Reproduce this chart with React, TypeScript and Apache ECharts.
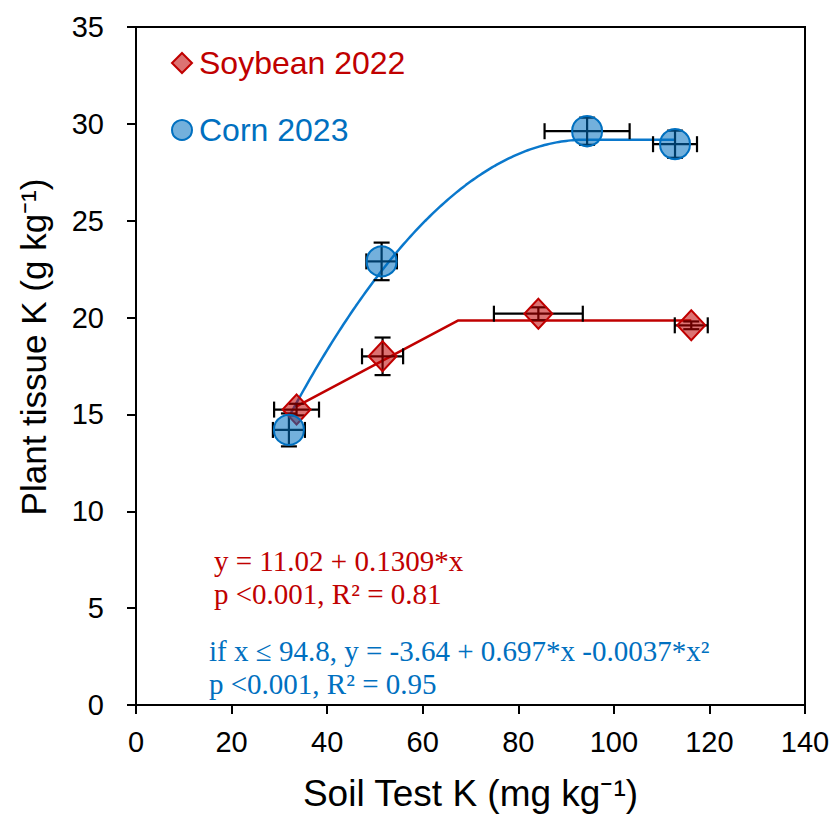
import React, { useEffect, useRef } from "react";
import * as echarts from "echarts";

// ---- Data ----
const soyX = [33.6, 51.6, 84.2, 116.2];
const soyY = [15.25, 18.0, 20.2, 19.6];
const soyXErr = [4.7, 4.3, 9.3, 3.45];
const soyYErr = [0.3, 0.97, 0.33, 0.2];

const cornX = [32.0, 51.4, 94.4, 112.8];
const cornY = [14.2, 22.9, 29.62, 28.95];
const cornXErr = [3.35, 3.2, 8.9, 4.6];
const cornYErr = [0.85, 0.97, 0.7, 0.7];

// Fitted models (printed on the chart)
const soyIntercept = 11.02;
const soySlope = 0.1309;
const soyPlateau = 19.85;
const cornA = -3.64;
const cornB = 0.697;
const cornC = -0.0037;

const xTicks = { min: 0, max: 140, interval: 20 };
const yTicks = { min: 0, max: 35, interval: 5 };

const RED = "#C00000";
const BLUE = "#0070C0";
const SANS = "Arial, 'Liberation Sans', sans-serif";
const SERIF = "'Times New Roman', 'Liberation Serif', serif";

function soyFit(): number[][] {
  const x0 = soyX[0];
  const xJoin = (soyPlateau - soyIntercept) / soySlope;
  const x1 = soyX[soyX.length - 1];
  return [
    [x0, soyIntercept + soySlope * x0],
    [xJoin, soyPlateau],
    [x1, soyPlateau],
  ];
}

function cornFit(): number[][] {
  const x0 = cornX[0];
  const xv = -cornB / (2 * cornC);
  const f = (x: number) => cornA + cornB * x + cornC * x * x;
  const pts: number[][] = [];
  for (let x = x0; x < xv; x += 0.5) pts.push([x, f(x)]);
  pts.push([xv, f(xv)]);
  pts.push([cornX[cornX.length - 1], f(xv)]);
  return pts;
}

function errSeries(xs: number[], ys: number[], xe: number[], ye: number[]) {
  return {
    type: "custom",
    z: 3,
    silent: true,
    encode: { x: 0, y: 1 },
    data: xs.map((x, i) => [x, ys[i], xe[i], ye[i]]),
    renderItem: (_params: any, api: any) => {
      const x = api.value(0);
      const y = api.value(1);
      const dx = api.value(2);
      const dy = api.value(3);
      const l = api.coord([x - dx, y]);
      const r = api.coord([x + dx, y]);
      const t = api.coord([x, y + dy]);
      const b = api.coord([x, y - dy]);
      const cap = 8;
      const style = { stroke: "#000", lineWidth: 2.2 };
      return {
        type: "group",
        children: [
          { type: "line", shape: { x1: l[0], y1: l[1], x2: r[0], y2: r[1] }, style },
          { type: "line", shape: { x1: l[0], y1: l[1] - cap, x2: l[0], y2: l[1] + cap }, style },
          { type: "line", shape: { x1: r[0], y1: r[1] - cap, x2: r[0], y2: r[1] + cap }, style },
          { type: "line", shape: { x1: t[0], y1: t[1], x2: b[0], y2: b[1] }, style },
          { type: "line", shape: { x1: t[0] - cap, y1: t[1], x2: t[0] + cap, y2: t[1] }, style },
          { type: "line", shape: { x1: b[0] - cap, y1: b[1], x2: b[0] + cap, y2: b[1] }, style },
        ],
      };
    },
  };
}

export default function App() {
  const ref = useRef<HTMLDivElement>(null);

  useEffect(() => {
    document.body.style.margin = "0";
    if (!ref.current) return;
    const chart = echarts.init(ref.current, undefined, { renderer: "svg" });

    const axisCommon = {
      axisLine: { show: true, lineStyle: { color: "#000", width: 2 } },
      axisTick: { show: true, inside: false, length: 9, lineStyle: { color: "#000", width: 2 } },
      splitLine: { show: false },
    };

    const annot = (text: string, x: number, y: number, fill: string) => ({
      type: "text",
      x,
      y,
      style: { text, fill, fontSize: 29, fontFamily: SERIF, textVerticalAlign: "middle" },
    });

    chart.setOption({
      animation: false,
      backgroundColor: "#fff",
      grid: {
        left: 136,
        right: 29,
        top: 27,
        bottom: 107,
        show: true,
        borderColor: "#000",
        borderWidth: 2,
        backgroundColor: "transparent",
      },
      legend: {
        orient: "vertical",
        left: 171,
        top: 47,
        padding: 0,
        itemWidth: 20,
        itemHeight: 20,
        itemGap: 35,
        data: [
          { name: "Soybean 2022", textStyle: { color: RED } },
          { name: "Corn 2023", textStyle: { color: BLUE } },
        ],
        textStyle: { fontSize: 32, fontFamily: SANS, lineHeight: 32, padding: [0, 0, 0, 2] },
        selectedMode: false,
      },
      xAxis: {
        type: "value",
        ...xTicks,
        ...axisCommon,
        name: "Soil Test K (mg kg\u207B\u00B9)",
        nameLocation: "middle",
        nameGap: 70,
        nameTextStyle: { fontSize: 37, fontFamily: SANS, color: "#000" },
        axisLabel: { fontSize: 29, fontFamily: SANS, color: "#000", margin: 22 },
      },
      yAxis: {
        type: "value",
        ...yTicks,
        ...axisCommon,
        axisLabel: { fontSize: 29, fontFamily: SANS, color: "#000", margin: 32 },
      },
      series: [
        {
          name: "soy-fit",
          type: "line",
          z: 2,
          showSymbol: false,
          silent: true,
          data: soyFit(),
          lineStyle: { color: RED, width: 2.5 },
        },
        {
          name: "corn-fit",
          type: "line",
          z: 2,
          showSymbol: false,
          silent: true,
          data: cornFit(),
          lineStyle: { color: "#0A78CC", width: 2.5 },
        },
        errSeries(soyX, soyY, soyXErr, soyYErr),
        errSeries(cornX, cornY, cornXErr, cornYErr),
        {
          name: "Soybean 2022",
          type: "scatter",
          z: 4,
          symbol: "diamond",
          symbolSize: [28, 30],
          data: soyX.map((x, i) => [x, soyY[i]]),
          itemStyle: { color: "rgba(192,0,0,0.55)", borderColor: RED, borderWidth: 2, opacity: 1 },
          emphasis: { disabled: true },
        },
        {
          name: "Corn 2023",
          type: "scatter",
          z: 4,
          symbol: "circle",
          symbolSize: 30,
          data: cornX.map((x, i) => [x, cornY[i]]),
          itemStyle: { color: "rgba(0,112,192,0.55)", borderColor: BLUE, borderWidth: 2, opacity: 1 },
          emphasis: { disabled: true },
        },
      ],
      graphic: [
        {
          type: "text",
          x: 33,
          y: 347,
          rotation: Math.PI / 2,
          style: {
            text: "Plant tissue K (g kg\u207B\u00B9)",
            fill: "#000",
            fontSize: 35,
            fontFamily: SANS,
            textAlign: "center",
            textVerticalAlign: "middle",
          },
        },
        annot("y = 11.02 + 0.1309*x", 214, 561, RED),
        annot("p <0.001, R\u00B2 = 0.81", 214, 594, RED),
        annot("if x \u2264 94.8, y = -3.64 + 0.697*x -0.0037*x\u00B2", 209, 651, BLUE),
        annot("p <0.001, R\u00B2 = 0.95", 209, 684, BLUE),
      ],
    });

    return () => chart.dispose();
  }, []);

  return <div ref={ref} style={{ width: 834, height: 817 }} />;
}
